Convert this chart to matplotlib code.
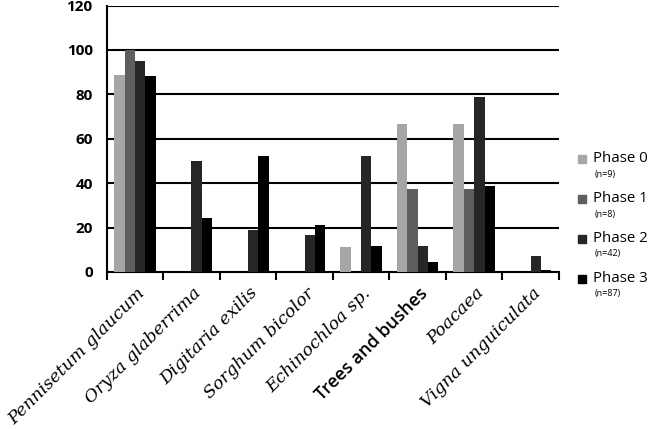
import numpy as np
import matplotlib.pyplot as plt
from matplotlib.patches import Rectangle
from matplotlib.transforms import offset_copy

categories = ['Pennisetum glaucum', 'Oryza glaberrima', 'Digitaria exilis',
              'Sorghum bicolor', 'Echinochloa sp.', 'Trees and bushes',
              'Poacaea', 'Vigna unguiculata']
italic_cat = [True, True, True, True, True, False, True, True]

phases = ['Phase 0', 'Phase 1', 'Phase 2', 'Phase 3']
phase_n = ['(n=9)', '(n=8)', '(n=42)', '(n=87)']
phase0 = [88.9, 0, 0, 0, 11.1, 66.7, 66.7, 0]
phase1 = [100, 0, 0, 0, 0, 37.5, 37.5, 0]
phase2 = [95.2, 50.0, 19.0, 16.7, 52.4, 11.9, 78.6, 7.1]
phase3 = [88.5, 24.5, 52.3, 21.0, 11.8, 4.6, 38.8, 1.1]
series = [phase0, phase1, phase2, phase3]
colors = ['#a6a6a6', '#5e5e5e', '#262626', '#000000']

fig = plt.figure(figsize=(6.5, 4.29), dpi=100)
ax = fig.add_axes([0.164, 0.366, 0.696, 0.621])

x = np.arange(len(categories))
w = 0.183
for i, vals in enumerate(series):
    ax.bar(x + (i - 1.5) * w, vals, width=w, color=colors[i], zorder=3)

ax.set_xlim(-0.5, len(categories) - 0.5)
ax.set_ylim(0, 120)
ax.set_yticks(range(0, 121, 20))
for y in range(20, 121, 20):
    ax.axhline(y, color='black', lw=1.5, zorder=1)

for s in ['top', 'right']:
    ax.spines[s].set_visible(False)
ax.spines['left'].set_linewidth(1.5)
ax.spines['bottom'].set_linewidth(1.5)

# ticks at category boundaries
ax.set_xticks(np.arange(-0.5, len(categories)))
ax.set_xticklabels([])
ax.tick_params(axis='x', direction='out', length=6, width=1.5)
ax.tick_params(axis='y', length=0, pad=10)
for lab in ax.get_yticklabels():
    lab.set_fontfamily('Open Sans')
    lab.set_fontweight('bold')
    lab.set_fontsize(11)

# rotated category labels
trans = offset_copy(ax.get_xaxis_transform(), fig=fig, x=1, y=-9, units='points')
for i, cat in enumerate(categories):
    if italic_cat[i]:
        ax.text(i, 0, cat, transform=trans, rotation=45, rotation_mode='anchor',
                ha='right', va='top', fontsize=12.6, fontstyle='italic',
                family='DejaVu Serif')
    else:
        ax.text(i, 0, cat, transform=trans, rotation=45, rotation_mode='anchor',
                ha='right', va='top', fontsize=13, family='Open Sans',
                fontweight='semibold')

# legend
leg_y = [0.63, 0.537, 0.444, 0.351]
for i in range(4):
    fig.add_artist(Rectangle((0.889, leg_y[i] - 0.01), 0.0125, 0.019,
                             color=colors[i], transform=fig.transFigure))
    fig.text(0.913, leg_y[i], phases[i], fontsize=10.8, family='Open Sans',
             va='center', ha='left')
    fig.text(0.915, leg_y[i] - 0.036, phase_n[i], fontsize=6.5, family='Open Sans',
             va='center', ha='left')

fig.savefig('out.png', dpi=100)
